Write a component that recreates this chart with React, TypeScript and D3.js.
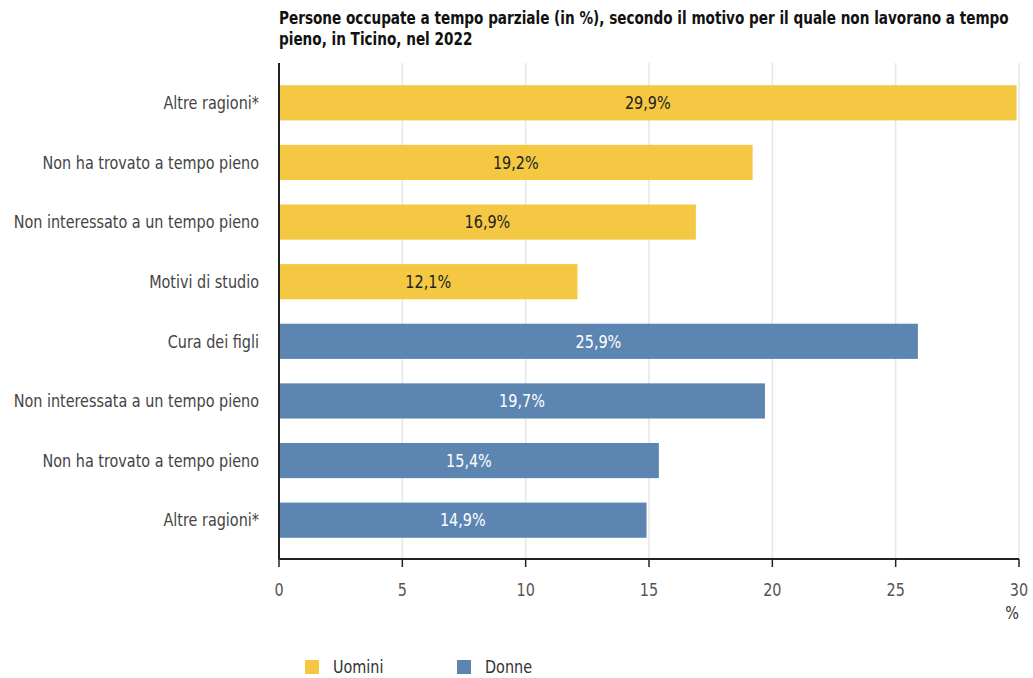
import React from "react";
import * as d3 from "d3";

const categories = [
  "Altre ragioni*",
  "Non ha trovato a tempo pieno",
  "Non interessato a un tempo pieno",
  "Motivi di studio",
  "Cura dei figli",
  "Non interessata a un tempo pieno",
  "Non ha trovato a tempo pieno",
  "Altre ragioni*",
];
const values = [29.9, 19.2, 16.9, 12.1, 25.9, 19.7, 15.4, 14.9];
const groups = ["Uomini", "Uomini", "Uomini", "Uomini", "Donne", "Donne", "Donne", "Donne"];
const legendLabels = ["Uomini", "Donne"];
const xTicks = [0, 5, 10, 15, 20, 25, 30];
const titleLines = [
  "Persone occupate a tempo parziale (in %), secondo il motivo per il quale non lavorano a tempo",
  "pieno, in Ticino, nel 2022",
];

const COLORS: Record<string, string> = { Uomini: "#F4C842", Donne: "#5D85B2" };
const FONT = "'DejaVu Sans Condensed', 'Liberation Sans Narrow', sans-serif";
const SX = 0.89;

function CText(props: {
  x: number;
  y: number;
  anchor?: "start" | "middle" | "end";
  size?: number;
  fill?: string;
  weight?: string;
  dy?: string;
  children: React.ReactNode;
}) {
  const { x, y, anchor = "start", size = 18, fill = "#444", weight = "normal", dy = "0.35em", children } = props;
  return (
    <text
      transform={`translate(${x},${y}) scale(${SX},1)`}
      dy={dy}
      textAnchor={anchor}
      fontSize={size}
      fill={fill}
      fontWeight={weight}
    >
      {children}
    </text>
  );
}

export default function App() {
  const W = 1033;
  const H = 678;
  const x = d3.scaleLinear().domain([0, 30]).range([279, 1019]);
  const y = d3
    .scaleBand<number>()
    .domain(d3.range(categories.length))
    .range([73, 550])
    .paddingInner(0.41)
    .paddingOuter(0.205);
  const plotTop = 63;
  const axisY = 559;
  const legendX = [305, 457];

  return (
    <svg width={W} height={H} style={{ position: "absolute", left: 0, top: 0, fontFamily: FONT }}>
      <rect width={W} height={H} fill="#fff" />
      {titleLines.map((t, i) => (
        <CText key={i} x={279} y={24 + i * 21} size={17} weight="bold" fill="#111" dy="0">
          {t}
        </CText>
      ))}
      {xTicks.map((t) => (
        <line key={"g" + t} x1={x(t)} x2={x(t)} y1={plotTop} y2={axisY} stroke="#e6e6e6" strokeWidth={1.5} />
      ))}
      {values.map((v, i) => (
        <g key={i}>
          <rect
            x={x(0)}
            y={y(i)!}
            width={x(v) - x(0)}
            height={y.bandwidth()}
            fill={COLORS[groups[i]]}
          />
          <CText
            x={(x(0) + x(v)) / 2}
            y={y(i)! + y.bandwidth() / 2}
            anchor="middle"
            fill={groups[i] === "Donne" ? "#fff" : "#222"}
          >
            {d3.format(".1f")(v).replace(".", ",")}%
          </CText>
          <CText x={259} y={y(i)! + y.bandwidth() / 2} anchor="end" fill="#444">
            {categories[i]}
          </CText>
        </g>
      ))}
      <line x1={x(0)} x2={x(0)} y1={plotTop} y2={axisY} stroke="#222" strokeWidth={2} />
      <line x1={x(0)} x2={x(30)} y1={axisY} y2={axisY} stroke="#222" strokeWidth={2} />
      {xTicks.map((t) => (
        <g key={"t" + t}>
          <line x1={x(t)} x2={x(t)} y1={axisY} y2={axisY + 8} stroke="#222" strokeWidth={1.5} />
          <CText x={x(t)} y={590} anchor="middle" fill="#555">
            {t}
          </CText>
        </g>
      ))}
      <CText x={1012} y={613} anchor="middle" fill="#333">
        %
      </CText>
      {legendLabels.map((l, i) => (
        <g key={l}>
          <rect x={legendX[i]} y={660} width={14} height={14} fill={COLORS[l]} />
          <CText x={legendX[i] + 28} y={667} fill="#333">
            {l}
          </CText>
        </g>
      ))}
    </svg>
  );
}
